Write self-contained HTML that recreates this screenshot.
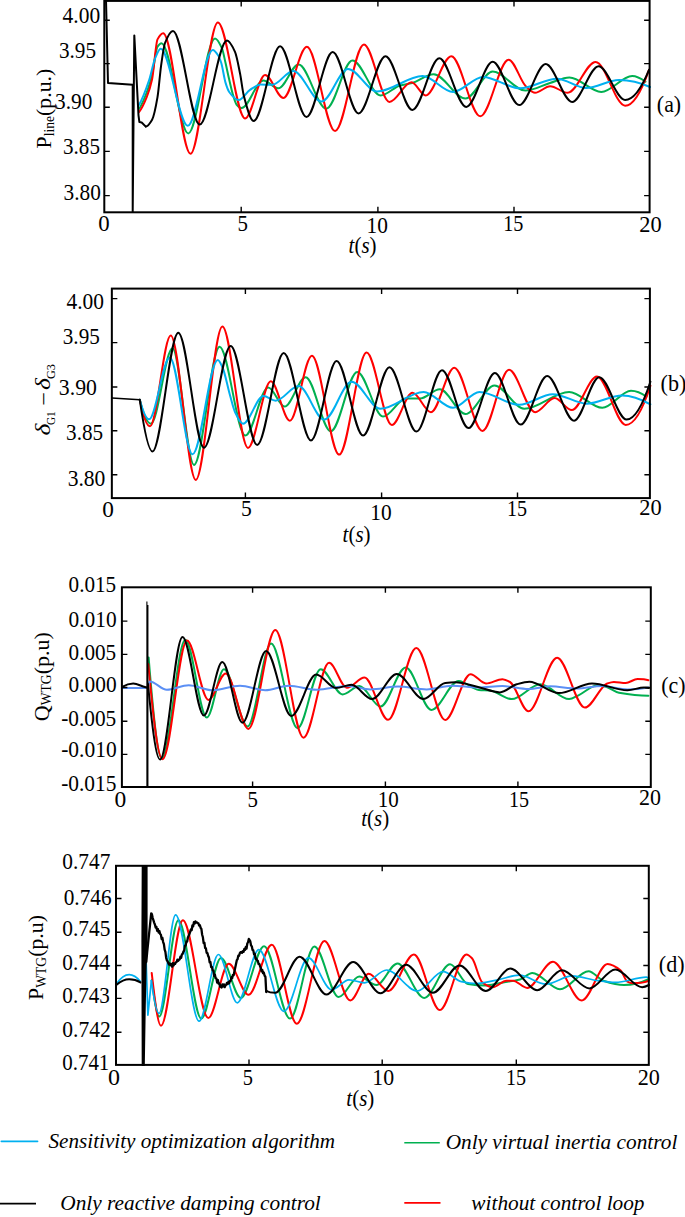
<!DOCTYPE html>
<html><head><meta charset="utf-8"><style>
html,body{margin:0;padding:0;background:#fff;overflow:hidden;}
svg{display:block;}
text{font-family:"Liberation Serif",serif;fill:#000;}
</style></head><body>
<svg width="685" height="1217" viewBox="0 0 685 1217">
<rect width="685" height="1217" fill="#fff"/>
<path d="M139.00 109.00C141.87 104.91 144.73 97.85 147.60 90.00C149.10 85.89 150.60 80.82 152.10 74.70C153.90 67.35 155.70 49.24 157.50 46.70C158.83 44.82 160.17 43.30 161.50 43.30C170.43 43.30 179.37 133.40 188.30 133.40C197.20 133.40 206.10 38.40 215.00 38.40C217.30 38.40 219.60 43.10 221.90 48.20C223.10 50.86 224.30 57.66 225.50 62.80C226.73 68.08 227.97 74.32 229.20 79.60C230.40 84.74 231.60 90.23 232.80 94.20C234.03 98.28 235.27 103.07 236.50 104.50C238.20 106.48 239.90 108.10 241.60 108.10C248.83 108.10 256.07 80.40 263.30 80.40C268.30 80.40 273.30 88.30 278.30 88.30C285.07 88.30 291.83 64.50 298.60 64.50C307.83 64.50 317.07 108.70 326.30 108.70C335.00 108.70 343.70 60.40 352.40 60.40C361.80 60.40 371.20 95.40 380.60 95.40C387.07 95.40 393.53 87.35 400.00 85.50C404.00 84.35 408.00 84.07 412.00 83.00C419.20 81.07 426.40 74.20 433.60 74.20C444.20 74.20 454.80 98.60 465.40 98.60C474.50 98.60 483.60 71.60 492.70 71.60C503.60 71.60 514.50 90.50 525.40 90.50C533.60 90.50 541.80 85.43 550.00 83.00C556.47 81.08 562.93 77.40 569.40 77.40C580.03 77.40 590.67 91.90 601.30 91.90C611.60 91.90 621.90 76.00 632.20 76.00C636.63 76.00 641.07 78.54 645.50 81.70" stroke="#00b050" stroke-width="2.00" fill="none" stroke-linejoin="round" stroke-linecap="round"/>
<path d="M139.00 112.10C141.57 109.24 144.13 103.58 146.70 97.20C148.50 92.72 150.30 87.46 152.10 79.20C153.90 70.94 155.70 42.84 157.50 39.40C159.40 35.77 161.30 33.20 163.20 33.20C172.30 33.20 181.40 153.70 190.50 153.70C199.63 153.70 208.77 22.60 217.90 22.60C226.97 22.60 236.03 118.40 245.10 118.40C251.77 118.40 258.43 75.10 265.10 75.10C271.20 75.10 277.30 98.00 283.40 98.00C291.23 98.00 299.07 46.80 306.90 46.80C316.30 46.80 325.70 131.10 335.10 131.10C344.70 131.10 354.30 44.50 363.90 44.50C372.40 44.50 380.90 101.90 389.40 101.90C396.77 101.90 404.13 82.20 411.50 82.20C416.23 82.20 420.97 95.40 425.70 95.40C434.23 95.40 442.77 56.20 451.30 56.20C460.97 56.20 470.63 116.30 480.30 116.30C489.73 116.30 499.17 59.70 508.60 59.70C514.40 59.70 520.20 81.17 526.00 86.50C529.03 89.29 532.07 92.80 535.10 92.80C540.10 92.80 545.10 86.20 550.10 86.20C555.97 86.20 561.83 92.80 567.70 92.80C577.00 92.80 586.30 61.90 595.60 61.90C605.43 61.90 615.27 105.70 625.10 105.70C633.07 105.70 641.03 92.42 649.00 69.80" stroke="#ff0000" stroke-width="2.00" fill="none" stroke-linejoin="round" stroke-linecap="round"/>
<path d="M138.50 105.70C142.13 99.91 145.77 90.10 149.40 79.20C151.20 73.80 153.00 63.72 154.80 59.30C156.73 54.56 158.67 48.70 160.60 48.70C169.67 48.70 178.73 125.80 187.80 125.80C196.13 125.80 204.47 50.10 212.80 50.10C214.60 50.10 216.40 52.84 218.20 55.50C219.20 56.98 220.20 59.67 221.20 62.80C222.63 67.28 224.07 77.94 225.50 82.60C226.73 86.61 227.97 90.30 229.20 92.00C232.37 96.36 235.53 100.10 238.70 100.10C242.47 100.10 246.23 92.33 250.00 89.90C253.57 87.60 257.13 84.50 260.70 84.50C264.53 84.50 268.37 84.80 272.20 84.80C279.23 84.80 286.27 71.00 293.30 71.00C302.70 71.00 312.10 101.60 321.50 101.60C330.33 101.60 339.17 68.90 348.00 68.90C357.67 68.90 367.33 91.50 377.00 91.50C392.20 91.50 407.40 76.00 422.60 76.00C432.73 76.00 442.87 91.90 453.00 91.90C463.00 91.90 473.00 76.90 483.00 76.90C495.33 76.90 507.67 88.30 520.00 88.30C532.33 88.30 544.67 78.70 557.00 78.70C566.73 78.70 576.47 88.00 586.20 88.00C597.13 88.00 608.07 79.90 619.00 79.90C629.33 79.90 639.67 82.24 650.00 87.00" stroke="#00b0f0" stroke-width="2.00" fill="none" stroke-linejoin="round" stroke-linecap="round"/>
<path d="M106.00 0.00L108.00 83.00L132.70 84.80L132.70 212.00L134.30 35.40L138.50 115.30L139.40 122.10L141.70 122.50L145.80 126.60" stroke="#000" stroke-width="2.00" fill="none" stroke-linejoin="round" stroke-linecap="round"/>
<path d="M145.80 126.60C147.90 126.60 150.00 123.46 152.10 119.80C153.90 116.66 155.70 107.65 157.50 97.20C158.70 90.23 159.90 74.00 161.10 65.60C162.40 56.50 163.70 46.34 165.00 43.00C167.67 36.14 170.33 30.90 173.00 30.90C181.90 30.90 190.80 124.60 199.70 124.60C208.80 124.60 217.90 40.60 227.00 40.60C229.67 40.60 232.33 46.01 235.00 51.90C236.70 55.65 238.40 65.27 240.10 73.80C241.33 79.99 242.57 90.99 243.80 95.70C247.07 108.18 250.33 121.00 253.60 121.00C262.43 121.00 271.27 46.30 280.10 46.30C288.90 46.30 297.70 117.00 306.50 117.00C315.23 117.00 323.97 52.10 332.70 52.10C341.33 52.10 349.97 113.40 358.60 113.40C367.57 113.40 376.53 56.20 385.50 56.20C394.47 56.20 403.43 109.90 412.40 109.90C421.37 109.90 430.33 58.30 439.30 58.30C448.30 58.30 457.30 106.90 466.30 106.90C475.10 106.90 483.90 61.80 492.70 61.80C501.53 61.80 510.37 105.10 519.20 105.10C528.03 105.10 536.87 64.00 545.70 64.00C554.50 64.00 563.30 102.00 572.10 102.00C580.93 102.00 589.77 66.30 598.60 66.30C607.43 66.30 616.27 99.90 625.10 99.90C633.07 99.90 641.03 89.38 649.00 69.80" stroke="#000" stroke-width="2.00" fill="none" stroke-linejoin="round" stroke-linecap="round"/>
<rect x="104.30" y="0.90" width="545.30" height="211.40" fill="none" stroke="#000" stroke-width="2.00"/><path d="M104.30 20.20H109.80M649.60 20.20H644.10M104.30 63.60H109.80M649.60 63.60H644.10M104.30 107.20H109.80M649.60 107.20H644.10M104.30 151.40H109.80M649.60 151.40H644.10M104.30 195.60H109.80M649.60 195.60H644.10M241.20 212.30V206.80M241.20 0.90V6.40M377.90 212.30V206.80M377.90 0.90V6.40M514.00 212.30V206.80M514.00 0.90V6.40" stroke="#000" stroke-width="1.40" fill="none"/>
<text transform="translate(62.57 23.25) scale(0.962 1)" style="font-size:22.30px;">4.00</text>
<text transform="translate(58.99 58.12) scale(0.949 1)" style="font-size:22.30px;">3.95</text>
<text transform="translate(55.09 109.30) scale(0.956 1)" style="font-size:22.30px;">3.90</text>
<text transform="translate(63.00 153.95) scale(0.947 1)" style="font-size:22.30px;">3.85</text>
<text transform="translate(63.59 200.30) scale(0.956 1)" style="font-size:22.30px;">3.80</text>
<text transform="translate(98.24 230.85) scale(1.023 1)" style="font-size:22.30px;">0</text>
<text transform="translate(237.60 230.74) scale(0.936 1)" style="font-size:22.30px;">5</text>
<text transform="translate(366.53 232.75) scale(0.958 1)" style="font-size:22.30px;">10</text>
<text transform="translate(503.13 230.80) scale(0.905 1)" style="font-size:22.30px;">15</text>
<text transform="translate(639.25 232.15) scale(1.004 1)" style="font-size:22.30px;">20</text>
<text transform="translate(348.58 252.79) scale(0.940 1)" style="font-size:22.30px"><tspan style="font-style:italic">t</tspan>(<tspan style="font-style:italic">s</tspan>)</text>
<text transform="translate(656.87 111.80) scale(0.967 1)" style="font-size:22.60px;">(a)</text>
<text transform="translate(50.7 148.4) rotate(-90)" style="font-size:21.8px">P<tspan style="font-size:13.6px" dy="3.3">line</tspan><tspan dy="-3.3">(p.u.)</tspan></text>
<path d="M139.80 399.80C143.50 414.86 147.20 423.70 150.90 423.70C158.10 423.70 165.30 348.30 172.50 348.30C179.67 348.30 186.83 464.90 194.00 464.90C202.53 464.90 211.07 346.80 219.60 346.80C228.17 346.80 236.73 435.50 245.30 435.50C252.97 435.50 260.63 387.50 268.30 387.50C273.73 387.50 279.17 406.60 284.60 406.60C291.63 406.60 298.67 377.20 305.70 377.20C314.07 377.20 322.43 431.30 330.80 431.30C339.63 431.30 348.47 371.90 357.30 371.90C365.87 371.90 374.43 416.60 383.00 416.60C390.67 416.60 398.33 398.50 406.00 398.50C410.67 398.50 415.33 398.50 420.00 398.50C426.60 398.50 433.20 389.20 439.80 389.20C448.37 389.20 456.93 414.00 465.50 414.00C475.17 414.00 484.83 385.40 494.50 385.40C504.40 385.40 514.30 408.70 524.20 408.70C539.17 408.70 554.13 391.90 569.10 391.90C580.17 391.90 591.23 407.80 602.30 407.80C611.87 407.80 621.43 390.70 631.00 390.70C636.17 390.70 641.33 392.92 646.50 396.70" stroke="#00b050" stroke-width="2.00" fill="none" stroke-linejoin="round" stroke-linecap="round"/>
<path d="M139.80 399.80C143.20 416.48 146.60 426.30 150.00 426.30C156.90 426.30 163.80 335.40 170.70 335.40C179.07 335.40 187.43 479.90 195.80 479.90C204.67 479.90 213.53 326.50 222.40 326.50C230.93 326.50 239.47 447.90 248.00 447.90C255.60 447.90 263.20 381.30 270.80 381.30C277.17 381.30 283.53 420.70 289.90 420.70C297.23 420.70 304.57 355.70 311.90 355.70C321.00 355.70 330.10 454.60 339.20 454.60C348.33 454.60 357.47 352.50 366.60 352.50C375.00 352.50 383.40 424.90 391.80 424.90C398.70 424.90 405.60 392.80 412.50 392.80C418.67 392.80 424.83 412.20 431.00 412.20C438.77 412.20 446.53 367.70 454.30 367.70C463.70 367.70 473.10 430.90 482.50 430.90C491.33 430.90 500.17 369.80 509.00 369.80C517.70 369.80 526.40 412.20 535.10 412.20C541.60 412.20 548.10 398.10 554.60 398.10C560.33 398.10 566.07 410.10 571.80 410.10C580.20 410.10 588.60 376.50 597.00 376.50C606.57 376.50 616.13 424.90 625.70 424.90C633.93 424.90 642.17 411.23 650.40 385.70" stroke="#ff0000" stroke-width="2.00" fill="none" stroke-linejoin="round" stroke-linecap="round"/>
<path d="M139.80 399.80C142.87 411.09 145.93 419.30 149.00 419.30C155.93 419.30 162.87 357.40 169.80 357.40C177.37 357.40 184.93 454.30 192.50 454.30C200.93 454.30 209.37 360.10 217.80 360.10C219.43 360.10 221.07 364.41 222.70 368.00C225.07 373.20 227.43 386.18 229.80 394.50C231.57 400.71 233.33 408.52 235.10 412.20C237.73 417.68 240.37 423.70 243.00 423.70C249.80 423.70 256.60 396.00 263.40 396.00C267.50 396.00 271.60 400.70 275.70 400.70C283.33 400.70 290.97 386.10 298.60 386.10C307.13 386.10 315.67 419.60 324.20 419.60C333.33 419.60 342.47 381.80 351.60 381.80C361.17 381.80 370.73 408.70 380.30 408.70C394.73 408.70 409.17 391.90 423.60 391.90C433.43 391.90 443.27 407.80 453.10 407.80C461.90 407.80 470.70 391.90 479.50 391.90C492.73 391.90 505.97 404.80 519.20 404.80C530.40 404.80 541.60 394.20 552.80 394.20C564.13 394.20 575.47 403.70 586.80 403.70C598.57 403.70 610.33 395.40 622.10 395.40C631.53 395.40 640.97 399.03 650.40 404.30" stroke="#00b0f0" stroke-width="2.00" fill="none" stroke-linejoin="round" stroke-linecap="round"/>
<path d="M111.90 398.10L139.80 399.80" stroke="#000" stroke-width="1.50" fill="none" stroke-linejoin="round" stroke-linecap="round"/>
<path d="M139.80 399.80C144.03 429.10 148.27 451.40 152.50 451.40C161.10 451.40 169.70 332.70 178.30 332.70C186.87 332.70 195.43 447.70 204.00 447.70C212.90 447.70 221.80 346.00 230.70 346.00C239.53 346.00 248.37 444.90 257.20 444.90C266.03 444.90 274.87 353.00 283.70 353.00C292.80 353.00 301.90 440.50 311.00 440.50C319.53 440.50 328.07 361.00 336.60 361.00C345.43 361.00 354.27 435.50 363.10 435.50C371.90 435.50 380.70 367.20 389.50 367.20C398.50 367.20 407.50 431.60 416.50 431.60C425.00 431.60 433.50 370.20 442.00 370.20C450.83 370.20 459.67 428.10 468.50 428.10C477.30 428.10 486.10 373.00 494.90 373.00C503.47 373.00 512.03 424.60 520.60 424.60C529.47 424.60 538.33 376.00 547.20 376.00C556.17 376.00 565.13 420.70 574.10 420.70C582.47 420.70 590.83 377.20 599.20 377.20C608.33 377.20 617.47 419.60 626.60 419.60C634.53 419.60 642.47 405.96 650.40 381.80" stroke="#000" stroke-width="2.00" fill="none" stroke-linejoin="round" stroke-linecap="round"/>
<rect x="111.85" y="288.60" width="538.05" height="209.50" fill="none" stroke="#000" stroke-width="2.00"/><path d="M111.85 298.60H117.35M649.90 298.60H644.40M111.85 342.60H117.35M649.90 342.60H644.40M111.85 387.00H117.35M649.90 387.00H644.40M111.85 430.80H117.35M649.90 430.80H644.40M111.85 474.80H117.35M649.90 474.80H644.40M245.40 498.10V492.60M245.40 288.60V294.10M381.60 498.10V492.60M381.60 288.60V294.10M517.50 498.10V492.60M517.50 288.60V294.10" stroke="#000" stroke-width="1.40" fill="none"/>
<text transform="translate(66.47 308.90) scale(0.962 1)" style="font-size:22.30px;">4.00</text>
<text transform="translate(62.79 343.82) scale(0.949 1)" style="font-size:22.30px;">3.95</text>
<text transform="translate(58.87 395.00) scale(0.975 1)" style="font-size:22.30px;">3.90</text>
<text transform="translate(66.09 440.15) scale(0.949 1)" style="font-size:22.30px;">3.85</text>
<text transform="translate(67.68 486.20) scale(0.967 1)" style="font-size:22.30px;">3.80</text>
<text transform="translate(102.23 516.55) scale(1.045 1)" style="font-size:22.30px;">0</text>
<text transform="translate(241.06 516.39) scale(0.969 1)" style="font-size:22.30px;">5</text>
<text transform="translate(370.33 519.55) scale(0.958 1)" style="font-size:22.30px;">10</text>
<text transform="translate(506.89 516.45) scale(0.900 1)" style="font-size:22.30px;">15</text>
<text transform="translate(639.25 514.95) scale(1.004 1)" style="font-size:22.30px;">20</text>
<text transform="translate(342.58 541.79) scale(0.940 1)" style="font-size:22.30px"><tspan style="font-style:italic">t</tspan>(<tspan style="font-style:italic">s</tspan>)</text>
<text transform="translate(660.60 391.10) scale(0.980 1)" style="font-size:22.60px;">(b)</text>
<text transform="rotate(-90) translate(-435.39 49.90) scale(1.200 1)" style="font-size:21.30px;font-style:italic;">δ</text>
<text transform="rotate(-90) translate(-425.05 55.14) scale(0.850 1)" style="font-size:13.30px;">G1</text>
<text transform="rotate(-90) translate(-405.81 51.30) scale(1.130 1)" style="font-size:21.50px;">−</text>
<text transform="rotate(-90) translate(-390.04 49.90) scale(1.200 1)" style="font-size:21.30px;font-style:italic;">δ</text>
<text transform="rotate(-90) translate(-379.08 55.14) scale(0.920 1)" style="font-size:13.30px;">G3</text>
<path d="M148.60 657.40C153.00 711.17 157.40 758.40 161.80 758.40C169.63 758.40 177.47 639.70 185.30 639.70C192.47 639.70 199.63 717.60 206.80 717.60C212.53 717.60 218.27 669.20 224.00 669.20C231.87 669.20 239.73 726.40 247.60 726.40C255.43 726.40 263.27 643.60 271.10 643.60C279.93 643.60 288.77 728.20 297.60 728.20C305.30 728.20 313.00 669.20 320.70 669.20C328.00 669.20 335.30 694.40 342.60 694.40C348.20 694.40 353.80 686.00 359.40 686.00C366.43 686.00 373.47 706.50 380.50 706.50C388.90 706.50 397.30 667.50 405.70 667.50C414.27 667.50 422.83 709.90 431.40 709.90C440.50 709.90 449.60 681.00 458.70 681.00C465.43 681.00 472.17 689.49 478.90 690.00C482.60 690.28 486.30 690.22 490.00 690.50C497.23 691.04 504.47 699.10 511.70 699.10C521.23 699.10 530.77 684.30 540.30 684.30C549.90 684.30 559.50 699.10 569.10 699.10C572.23 699.10 575.37 696.71 578.50 695.30C584.67 692.52 590.83 685.60 597.00 685.60C599.67 685.60 602.33 686.04 605.00 686.50C609.67 687.30 614.33 691.96 619.00 692.80C628.80 694.56 638.60 695.80 648.40 695.80" stroke="#00b050" stroke-width="2.00" fill="none" stroke-linejoin="round" stroke-linecap="round"/>
<path d="M148.30 664.00C153.07 716.02 157.83 759.20 162.60 759.20C170.73 759.20 178.87 640.60 187.00 640.60C194.17 640.60 201.33 700.00 208.50 700.00C214.23 700.00 219.97 673.40 225.70 673.40C233.27 673.40 240.83 728.90 248.40 728.90C257.37 728.90 266.33 630.10 275.30 630.10C284.70 630.10 294.10 737.70 303.50 737.70C312.03 737.70 320.57 662.80 329.10 662.80C335.00 662.80 340.90 687.70 346.80 687.70C352.70 687.70 358.60 677.60 364.50 677.60C372.37 677.60 380.23 719.80 388.10 719.80C397.50 719.80 406.90 648.10 416.30 648.10C425.93 648.10 435.57 720.00 445.20 720.00C453.63 720.00 462.07 674.20 470.50 674.20C475.67 674.20 480.83 683.50 486.00 683.50C491.47 683.50 496.93 679.30 502.40 679.30C504.93 679.30 507.47 680.65 510.00 682.00C516.17 685.29 522.33 711.30 528.50 711.30C538.03 711.30 547.57 657.70 557.10 657.70C566.37 657.70 575.63 707.60 584.90 707.60C592.33 707.60 599.77 686.11 607.20 683.50C609.43 682.72 611.67 681.90 613.90 681.90C617.83 681.90 621.77 683.00 625.70 683.00C629.63 683.00 633.57 679.00 637.50 679.00C641.13 679.00 644.77 679.02 648.40 680.20" stroke="#ff0000" stroke-width="2.00" fill="none" stroke-linejoin="round" stroke-linecap="round"/>
<path d="M122.20 688.00C130.47 688.00 138.73 688.00 147.00 688.00C147.93 688.00 148.87 681.50 149.80 681.50C155.47 681.50 161.13 689.70 166.80 689.70C174.10 689.70 181.40 685.20 188.70 685.20C196.57 685.20 204.43 690.20 212.30 690.20C221.53 690.20 230.77 685.70 240.00 685.70C248.40 685.70 256.80 690.20 265.20 690.20C273.07 690.20 280.93 685.70 288.80 685.70C298.03 685.70 307.27 689.70 316.50 689.70C327.17 689.70 337.83 686.00 348.50 686.00C355.80 686.00 363.10 689.40 370.40 689.40C379.60 689.40 388.80 686.50 398.00 686.50C407.57 686.50 417.13 689.40 426.70 689.40C435.13 689.40 443.57 685.70 452.00 685.70C460.67 685.70 469.33 687.50 478.00 687.50C486.13 687.50 494.27 686.00 502.40 686.00C511.10 686.00 519.80 689.00 528.50 689.00C535.80 689.00 543.10 686.30 550.40 686.30C559.20 686.30 568.00 688.60 576.80 688.60C585.23 688.60 593.67 686.10 602.10 686.10C610.53 686.10 618.97 689.40 627.40 689.40C634.40 689.40 641.40 688.83 648.40 687.50" stroke="#5b8ff5" stroke-width="2.00" fill="none" stroke-linejoin="round" stroke-linecap="round"/>
<path d="M122.20 686.90C125.87 684.69 129.53 683.50 133.20 683.50C137.10 683.50 141.00 685.99 144.90 687.00C145.60 687.18 146.30 687.34 147.00 687.50" stroke="#000" stroke-width="2.00" fill="none" stroke-linejoin="round" stroke-linecap="round"/>
<path d="M146.9 786V601.5M147.9 786V605" stroke="#000" stroke-width="1.1" fill="none"/>
<path d="M148.00 684.00C152.03 725.79 156.07 759.60 160.10 759.60C167.57 759.60 175.03 636.90 182.50 636.90C189.63 636.90 196.77 715.50 203.90 715.50C210.03 715.50 216.17 662.10 222.30 662.10C229.03 662.10 235.77 722.70 242.50 722.70C250.37 722.70 258.23 651.00 266.10 651.00C274.50 651.00 282.90 716.00 291.30 716.00C299.60 716.00 307.90 674.60 316.20 674.60C322.77 674.60 329.33 688.00 335.90 688.00C341.10 688.00 346.30 684.80 351.50 684.80C358.37 684.80 365.23 699.10 372.10 699.10C380.33 699.10 388.57 673.90 396.80 673.90C405.67 673.90 414.53 699.10 423.40 699.10C430.67 699.10 437.93 683.84 445.20 683.00C448.57 682.61 451.93 682.30 455.30 682.30C462.87 682.30 470.43 685.20 478.00 686.90C485.30 688.54 492.60 692.40 499.90 692.40C505.50 692.40 511.10 685.84 516.70 684.30C520.90 683.14 525.10 681.80 529.30 681.80C539.13 681.80 548.97 693.10 558.80 693.10C569.87 693.10 580.93 683.50 592.00 683.50C603.80 683.50 615.60 690.30 627.40 690.30C633.00 690.30 638.60 687.40 644.20 687.40C645.80 687.40 647.40 687.69 649.00 688.00" stroke="#000" stroke-width="2.00" fill="none" stroke-linejoin="round" stroke-linecap="round"/>
<rect x="121.90" y="587.30" width="528.90" height="199.70" fill="none" stroke="#000" stroke-width="2.00"/><path d="M121.90 621.10H127.40M650.80 621.10H645.30M121.90 654.40H127.40M650.80 654.40H645.30M121.90 687.50H127.40M650.80 687.50H645.30M121.90 721.30H127.40M650.80 721.30H645.30M121.90 754.40H127.40M650.80 754.40H645.30M252.60 787.00V781.50M252.60 587.30V592.80M385.40 787.00V781.50M385.40 587.30V592.80M517.90 787.00V781.50M517.90 587.30V592.80" stroke="#000" stroke-width="1.40" fill="none"/>
<text transform="translate(68.61 592.10) scale(0.949 1)" style="font-size:22.30px;">0.015</text>
<text transform="translate(68.60 626.85) scale(0.959 1)" style="font-size:22.30px;">0.010</text>
<text transform="translate(68.61 659.60) scale(0.949 1)" style="font-size:22.30px;">0.005</text>
<text transform="translate(68.60 691.95) scale(0.959 1)" style="font-size:22.30px;">0.000</text>
<text transform="translate(61.20 726.15) scale(0.956 1)" style="font-size:22.30px;">-0.005</text>
<text transform="translate(61.19 757.20) scale(0.964 1)" style="font-size:22.30px;">-0.010</text>
<text transform="translate(61.20 791.40) scale(0.960 1)" style="font-size:22.30px;">-0.015</text>
<text transform="translate(114.42 807.00) scale(1.055 1)" style="font-size:22.30px;">0</text>
<text transform="translate(247.60 806.54) scale(0.936 1)" style="font-size:22.30px;">5</text>
<text transform="translate(377.86 806.65) scale(0.943 1)" style="font-size:22.30px;">10</text>
<text transform="translate(509.09 806.60) scale(0.900 1)" style="font-size:22.30px;">15</text>
<text transform="translate(638.97 805.00) scale(0.985 1)" style="font-size:22.30px;">20</text>
<text transform="translate(361.28 825.94) scale(0.940 1)" style="font-size:22.30px"><tspan style="font-style:italic">t</tspan>(<tspan style="font-style:italic">s</tspan>)</text>
<text transform="translate(661.17 692.90) scale(0.967 1)" style="font-size:22.60px;">(c)</text>
<text transform="translate(48.5 721.2) rotate(-90)" style="font-size:22px">Q<tspan style="font-size:13.6px" dy="2.3">WTG</tspan><tspan dy="-2.3">(p.u)</tspan></text>
<path d="M151.80 980.00C154.27 998.99 156.73 1016.50 159.20 1016.50C165.60 1016.50 172.00 920.30 178.40 920.30C186.03 920.30 193.67 1018.60 201.30 1018.60C207.87 1018.60 214.43 957.90 221.00 957.90C227.60 957.90 234.20 997.90 240.80 997.90C248.57 997.90 256.33 946.20 264.10 946.20C272.73 946.20 281.37 1018.60 290.00 1018.60C298.13 1018.60 306.27 946.60 314.40 946.60C322.47 946.60 330.53 997.10 338.60 997.10C345.47 997.10 352.33 976.40 359.20 976.40C364.97 976.40 370.73 985.00 376.50 985.00C383.50 985.00 390.50 963.40 397.50 963.40C406.40 963.40 415.30 997.90 424.20 997.90C432.83 997.90 441.47 964.30 450.10 964.30C456.07 964.30 462.03 983.03 468.00 984.00C473.67 984.92 479.33 985.50 485.00 985.50C490.00 985.50 495.00 983.83 500.00 983.00C504.00 982.33 508.00 981.71 512.00 981.00C514.67 980.53 517.33 980.22 520.00 979.50C524.10 978.40 528.20 972.90 532.30 972.90C541.53 972.90 550.77 989.30 560.00 989.30C569.53 989.30 579.07 971.20 588.60 971.20C593.50 971.20 598.40 979.11 603.30 980.70C610.20 982.93 617.10 985.00 624.00 985.00C632.33 985.00 640.67 983.04 649.00 979.00" stroke="#00b050" stroke-width="2.00" fill="none" stroke-linejoin="round" stroke-linecap="round"/>
<path d="M151.70 972.90C154.80 1000.19 157.90 1025.70 161.00 1025.70C168.30 1025.70 175.60 920.30 182.90 920.30C191.37 920.30 199.83 1018.00 208.30 1018.00C215.10 1018.00 221.90 963.80 228.70 963.80C235.33 963.80 241.97 994.80 248.60 994.80C256.33 994.80 264.07 944.80 271.80 944.80C280.13 944.80 288.47 1023.70 296.80 1023.70C306.00 1023.70 315.20 941.00 324.40 941.00C333.03 941.00 341.67 1000.50 350.30 1000.50C356.43 1000.50 362.57 973.80 368.70 973.80C375.23 973.80 381.77 991.00 388.30 991.00C396.83 991.00 405.37 954.50 413.90 954.50C422.53 954.50 431.17 1010.00 439.80 1010.00C448.70 1010.00 457.60 954.50 466.50 954.50C468.33 954.50 470.17 956.45 472.00 958.30C475.43 961.77 478.87 979.75 482.30 982.40C485.77 985.08 489.23 987.20 492.70 987.20C497.30 987.20 501.90 980.70 506.50 980.70C508.67 980.70 510.83 980.70 513.00 980.70C517.73 980.70 522.47 987.90 527.20 987.90C535.80 987.90 544.40 961.70 553.00 961.70C562.57 961.70 572.13 1000.50 581.70 1000.50C590.33 1000.50 598.97 964.00 607.60 964.00C611.90 964.00 616.20 966.88 620.50 970.30C622.80 972.13 625.10 980.38 627.40 981.60C629.13 982.52 630.87 983.30 632.60 983.30C638.07 983.30 643.53 983.30 649.00 980.70" stroke="#ff0000" stroke-width="2.00" fill="none" stroke-linejoin="round" stroke-linecap="round"/>
<path d="M116.30 984.10C120.60 977.87 124.90 974.70 129.20 974.70C132.93 974.70 136.67 976.97 140.40 981.60" stroke="#00b0f0" stroke-width="1.70" fill="none" stroke-linejoin="round" stroke-linecap="round"/>
<path d="M146.20 963.40L147.90 1015.20L151.40 980.70" stroke="#00b0f0" stroke-width="1.70" fill="none" stroke-linejoin="round" stroke-linecap="round"/>
<path d="M151.40 980.70C153.93 999.75 156.47 1013.40 159.00 1013.40C164.53 1013.40 170.07 914.80 175.60 914.80C183.43 914.80 191.27 1021.20 199.10 1021.20C205.53 1021.20 211.97 954.50 218.40 954.50C224.70 954.50 231.00 1002.80 237.30 1002.80C244.50 1002.80 251.70 949.70 258.90 949.70C267.23 949.70 275.57 1011.40 283.90 1011.40C292.07 1011.40 300.23 957.90 308.40 957.90C316.17 957.90 323.93 989.70 331.70 989.70C337.43 989.70 343.17 979.80 348.90 979.80C354.07 979.80 359.23 982.80 364.40 982.80C371.80 982.80 379.20 970.00 386.60 970.00C396.83 970.00 407.07 991.00 417.30 991.00C425.93 991.00 434.57 971.70 443.20 971.70C449.23 971.70 455.27 980.36 461.30 981.60C466.20 982.60 471.10 983.50 476.00 983.50C483.30 983.50 490.60 981.18 497.90 979.80C505.07 978.45 512.23 975.20 519.40 975.20C528.30 975.20 537.20 984.10 546.10 984.10C554.80 984.10 563.50 975.90 572.20 975.90C580.83 975.90 589.47 979.61 598.10 980.70C603.83 981.42 609.57 982.40 615.30 982.40C625.67 982.40 636.03 977.20 646.40 977.20C647.27 977.20 648.13 977.70 649.00 978.00" stroke="#00b0f0" stroke-width="1.70" fill="none" stroke-linejoin="round" stroke-linecap="round"/>
<path d="M116.30 985.00C120.60 981.45 124.90 979.30 129.20 979.30C132.93 979.30 136.67 980.12 140.40 982.40" stroke="#000" stroke-width="2.00" fill="none" stroke-linejoin="round" stroke-linecap="round"/>
<path d="M141.7 866L147.6 866L147.6 942L146.8 961L145.8 1005L144.8 1066L141.7 1066L141.4 942Z" fill="#000"/>
<path d="M146.30 962.00L147.20 952.00L151.20 913.30L151.90 914.25L152.65 917.83L153.40 920.07L154.15 922.56L154.90 924.48L155.65 927.59L156.40 926.86L157.15 930.85L157.90 929.09L158.65 932.62L159.40 931.12L160.15 933.94L160.90 934.77L161.65 939.18L162.40 937.86L163.15 942.03L163.90 944.19L164.65 949.63L165.40 951.91L166.15 957.97L166.90 960.50L167.65 961.37L168.40 963.38L169.15 964.60L169.90 963.41L170.65 965.19L171.40 964.05L172.15 966.70L172.90 963.14L173.65 965.33L174.40 963.45L175.15 963.85L175.90 962.23L176.65 961.92L177.40 959.65L178.15 960.81L178.90 959.61L179.65 959.56L180.40 956.67L181.15 957.80L181.90 954.46L182.65 953.85L183.40 951.56L184.15 950.66L184.90 945.57L185.65 945.58L186.40 941.48L187.15 941.60L187.90 937.43L188.65 935.80L189.40 934.22L190.15 931.82L190.90 929.38L191.65 930.22L192.40 925.52L193.15 926.41L193.90 922.14L194.65 923.59L195.40 921.42L196.15 922.66L196.90 922.30L197.65 923.03L198.40 923.30L199.15 925.64L199.90 925.27L200.65 927.91L201.40 928.96L202.15 934.76L202.90 937.29L203.65 943.11L204.40 942.61L205.15 948.06L205.90 948.39L206.65 952.90L207.40 953.16L208.15 955.89L208.90 957.35L209.65 962.43L210.40 961.89L211.15 967.05L211.90 966.88L212.65 970.39L213.40 970.69L214.15 976.03L214.90 974.63L215.65 978.18L216.40 978.50L217.15 982.62L217.90 980.11L218.65 983.69L219.40 983.42L220.15 986.72L220.90 985.60L221.65 987.53L222.40 984.42L223.15 986.25L223.90 984.41L224.65 987.16L225.40 985.59L226.15 984.82L226.90 982.96L227.65 984.12L228.40 981.88L229.15 983.30L229.90 981.15L230.65 980.78L231.40 977.15L232.15 978.19L232.90 974.82L233.65 975.27L234.00 973.60L236.80 960.15L237.55 959.22L238.30 955.65L239.05 955.78L239.80 953.20L240.55 952.24L241.30 952.15L242.05 952.75L242.80 951.07L243.55 951.88L244.30 948.98L245.05 949.84L245.80 946.95L246.55 948.60L247.30 943.53L248.05 942.22L248.80 938.99L249.55 940.01L250.30 941.37L251.05 945.42L251.80 946.21L252.55 950.03L253.30 950.36L254.05 954.22L254.80 953.68L255.55 958.83L256.30 958.42L257.05 960.36L257.80 960.71L258.55 963.87L259.30 963.92L260.05 966.22L260.80 967.97L261.55 971.24L262.30 970.07L263.05 973.15L263.80 972.43L264.55 975.61L265.30 976.45L265.50 978.00L266.20 992.00L266.60 991.00" stroke="#000" stroke-width="2.30" fill="none" stroke-linejoin="round" stroke-linecap="round"/>
<path d="M266.60 991.00C269.50 992.80 272.40 992.80 275.30 992.80C283.40 992.80 291.50 956.70 299.60 956.70C308.57 956.70 317.53 994.50 326.50 994.50C335.40 994.50 344.30 962.10 353.20 962.10C362.30 962.10 371.40 993.30 380.50 993.30C389.03 993.30 397.57 964.80 406.10 964.80C415.03 964.80 423.97 992.80 432.90 992.80C441.80 992.80 450.70 965.50 459.60 965.50C468.33 965.50 477.07 991.00 485.80 991.00C493.97 991.00 502.13 968.60 510.30 968.60C519.27 968.60 528.23 990.20 537.20 990.20C545.40 990.20 553.60 970.30 561.80 970.30C571.03 970.30 580.27 988.40 589.50 988.40C598.10 988.40 606.70 969.50 615.30 969.50C624.23 969.50 633.17 987.20 642.10 987.20C644.40 987.20 646.70 986.19 649.00 985.00" stroke="#000" stroke-width="2.00" fill="none" stroke-linejoin="round" stroke-linecap="round"/>
<rect x="116.00" y="865.80" width="532.80" height="199.10" fill="none" stroke="#000" stroke-width="2.00"/><path d="M116.00 898.50H121.50M648.80 898.50H643.30M116.00 932.20H121.50M648.80 932.20H643.30M116.00 965.50H121.50M648.80 965.50H643.30M116.00 998.40H121.50M648.80 998.40H643.30M116.00 1032.30H121.50M648.80 1032.30H643.30M249.00 1064.90V1059.40M249.00 865.80V871.30M382.20 1064.90V1059.40M382.20 865.80V871.30M516.30 1064.90V1059.40M516.30 865.80V871.30" stroke="#000" stroke-width="1.40" fill="none"/>
<text transform="translate(62.30 868.95) scale(0.958 1)" style="font-size:22.30px;">0.747</text>
<text transform="translate(63.70 904.65) scale(0.955 1)" style="font-size:22.30px;">0.746</text>
<text transform="translate(62.30 936.00) scale(0.960 1)" style="font-size:22.30px;">0.745</text>
<text transform="translate(62.30 970.05) scale(0.953 1)" style="font-size:22.30px;">0.744</text>
<text transform="translate(62.31 1003.25) scale(0.949 1)" style="font-size:22.30px;">0.743</text>
<text transform="translate(62.29 1037.20) scale(0.966 1)" style="font-size:22.30px;">0.742</text>
<text transform="translate(62.21 1069.90) scale(0.940 1)" style="font-size:22.30px;">0.741</text>
<text transform="translate(108.10 1085.30) scale(1.076 1)" style="font-size:22.30px;">0</text>
<text transform="translate(242.83 1084.64) scale(0.914 1)" style="font-size:22.30px;">5</text>
<text transform="translate(372.29 1084.75) scale(0.979 1)" style="font-size:22.30px;">10</text>
<text transform="translate(506.09 1084.70) scale(0.900 1)" style="font-size:22.30px;">15</text>
<text transform="translate(637.76 1084.75) scale(0.994 1)" style="font-size:22.30px;">20</text>
<text transform="translate(346.33 1105.69) scale(0.940 1)" style="font-size:22.30px"><tspan style="font-style:italic">t</tspan>(<tspan style="font-style:italic">s</tspan>)</text>
<text transform="translate(658.76 972.05) scale(0.979 1)" style="font-size:22.60px;">(d)</text>
<text transform="translate(43.3 999.9) rotate(-90)" style="font-size:21.8px">P<tspan style="font-size:13.6px" dy="2.5">WTG</tspan><tspan dy="-2.5">(p.u)</tspan></text>
<path d="M1.3 1141.4H37.6" stroke="#00b0f0" stroke-width="1.6" stroke-linecap="round"/>
<path d="M0 1203.6H36" stroke="#000" stroke-width="1.6"/>
<path d="M404.3 1142.7H439.8" stroke="#00b050" stroke-width="1.6"/>
<path d="M404.3 1202.9H440.5" stroke="#ff0000" stroke-width="1.6"/>
<text x="48.54" y="1147.80" style="font-size:21.15px;font-style:italic">Sensitivity optimization algorithm</text>
<text x="60.34" y="1209.80" style="font-size:21.30px;font-style:italic">Only reactive damping control</text>
<text x="445.63" y="1149.10" style="font-size:21.30px;font-style:italic">Only virtual inertia control</text>
<text x="471.37" y="1209.60" style="font-size:21.30px;font-style:italic">without control loop</text>
</svg>
</body></html>
